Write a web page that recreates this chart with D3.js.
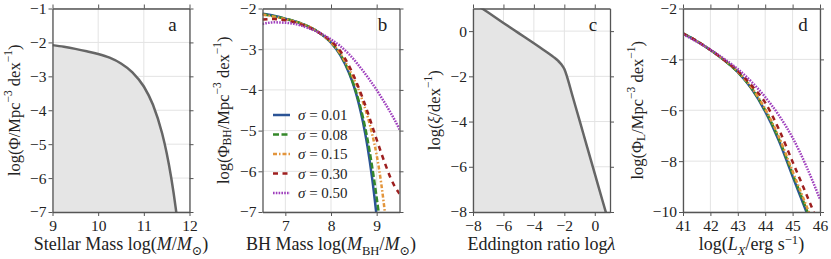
<!DOCTYPE html>
<html>
<head>
<meta charset="utf-8">
<script src="https://cdn.jsdelivr.net/npm/d3@7"></script>
<style>
  body { margin: 0; background: #fff; }
  svg { display: block; }
  text { font-family: "Liberation Serif", "DejaVu Serif", serif; fill: #222; }
</style>
</head>
<body>
<svg id="chart" width="831" height="259"></svg>
<script>
// ---- data ----
// a: stellar mass function
var stellarX = [9.0, 9.25, 9.5, 9.75, 10.0, 10.25, 10.5, 10.75, 11.0, 11.2, 11.4, 11.5, 11.6, 11.7, 11.72];
var stellarY = [-2.08, -2.13, -2.19, -2.26, -2.34, -2.45, -2.62, -2.88, -3.30, -3.84, -4.68, -5.26, -5.99, -6.90, -7.11];

// b: BH mass function for several scatters
var sigmaLabels = ["0.01", "0.08", "0.15", "0.30", "0.50"];
var bhX = [6.5, 6.75, 7.0, 7.25, 7.5, 7.75, 8.0, 8.2, 8.4, 8.5, 8.6, 8.7, 8.8, 8.9, 9.0, 9.1, 9.2, 9.3, 9.4, 9.5];
var bhY001 = [-2.13, -2.18, -2.25, -2.33, -2.44, -2.60, -2.84, -3.14, -3.60, -3.91, -4.30, -4.79, -5.40, -6.16, -7.11, -8.2, -9, -9, -9, -9];
var bhY008 = [-2.14, -2.19, -2.25, -2.33, -2.44, -2.60, -2.83, -3.12, -3.57, -3.88, -4.24, -4.68, -5.22, -5.88, -6.65, -7.5, -8.5, -9, -9, -9];
var bhY015 = [-2.15, -2.20, -2.26, -2.34, -2.44, -2.60, -2.83, -3.10, -3.50, -3.73, -3.98, -4.30, -4.65, -5.08, -5.60, -6.30, -7.20, -8.2, -9, -9];
var bhY030 = [-2.27, -2.26, -2.29, -2.36, -2.46, -2.60, -2.80, -3.04, -3.42, -3.66, -3.93, -4.22, -4.54, -4.88, -5.22, -5.55, -5.86, -6.15, -6.38, -6.55];
var bhY050 = [-2.38, -2.34, -2.35, -2.39, -2.48, -2.60, -2.76, -2.92, -3.13, -3.25, -3.39, -3.53, -3.68, -3.84, -4.00, -4.18, -4.36, -4.55, -4.75, -4.97];

// c: Eddington ratio distribution
var eddX = [-8, -7, -6, -5, -4, -3.5, -3, -2.7, -2.4, -2.2, -2.0, -1.83, -1.5, -1.0, -0.5, 0.0, 0.5, 0.8];
var eddY = [1.27, 0.82, 0.36, -0.09, -0.54, -0.77, -1.0, -1.15, -1.32, -1.47, -1.68, -2.0, -2.78, -3.95, -5.13, -6.30, -7.48, -8.18];

// d: X-ray luminosity function
var lumX = [41, 41.5, 42, 42.5, 43, 43.5, 44, 44.5, 45, 45.5, 46];
var lumY001 = [-2.98, -3.28, -3.63, -4.03, -4.50, -5.15, -6.05, -7.20, -8.60, -9.98, -11.4];
var lumY008 = [-2.98, -3.28, -3.63, -4.03, -4.50, -5.13, -6.00, -7.13, -8.50, -9.88, -11.3];
var lumY015 = [-2.98, -3.28, -3.63, -4.03, -4.48, -5.10, -5.95, -7.05, -8.40, -9.75, -11.1];
var lumY030 = [-2.98, -3.28, -3.63, -4.02, -4.45, -5.02, -5.70, -6.75, -8.03, -9.30, -10.6];
var lumY050 = [-3.02, -3.30, -3.62, -3.98, -4.38, -4.88, -5.48, -6.20, -7.08, -8.20, -9.50];

// ---- styles ----
var colors = ["#2b5496", "#35882a", "#e3953c", "#9e1f1f", "#9f3fbd"];
var dashes = [null, "6,2.5", "4,2,1.5,2", "5,4.5", "1.6,1.2"];

var svg = d3.select("#chart");
var top0 = 8.5, bottom0 = 212;
var tickSize = 15.5, labelSize = 16.5, xLabelSize = 18;
var serif = "'Liberation Serif', 'DejaVu Serif', serif";

function mathText(sel, parts, size) {
  var shift = 0;
  parts.forEach(function (p) {
    if (typeof p === "string") p = {t: p};
    var ts = sel.append("tspan").text(p.t);
    var target = p.sup ? -0.36 * size : (p.sub ? 0.25 * size : 0);
    ts.attr("dy", target - shift);
    shift = target;
    if (p.sup || p.sub) ts.attr("font-size", 0.7 * size);
    if (p.i) ts.attr("font-style", "italic");
  });
}

function panel(opt) {
  var x = d3.scaleLinear().domain(opt.xd).range([opt.left, opt.right]);
  var y = d3.scaleLinear().domain(opt.yd).range([bottom0, top0]);
  var g = svg.append("g");
  var clipId = "clip-" + opt.letter;
  g.append("clipPath").attr("id", clipId).append("rect")
    .attr("x", opt.left).attr("y", top0)
    .attr("width", opt.right - opt.left).attr("height", bottom0 - top0);

  // grid
  g.append("g").selectAll("line").data(opt.xt).join("line")
    .attr("x1", d => x(d)).attr("x2", d => x(d))
    .attr("y1", top0).attr("y2", bottom0)
    .attr("stroke", "#e3e3e3").attr("stroke-width", 1);
  g.append("g").selectAll("line").data(opt.yt).join("line")
    .attr("y1", d => y(d)).attr("y2", d => y(d))
    .attr("x1", opt.left).attr("x2", opt.right)
    .attr("stroke", "#e3e3e3").attr("stroke-width", 1);

  var plot = g.append("g").attr("clip-path", "url(#" + clipId + ")");
  opt.draw(plot, x, y);

  // axes on all four sides, outward ticks
  var fmt = d => d3.format("d")(d).replace("-", "\u2212");
  var ax = [
    d3.axisBottom(x).tickValues(opt.xt).tickFormat(fmt).tickSizeInner(4).tickSizeOuter(0).tickPadding(4),
    d3.axisTop(x).tickValues(opt.xt).tickFormat("").tickSizeInner(4).tickSizeOuter(0),
    d3.axisLeft(y).tickValues(opt.yt).tickFormat(fmt).tickSizeInner(4).tickSizeOuter(0).tickPadding(2),
    d3.axisRight(y).tickValues(opt.yt).tickFormat("").tickSizeInner(4).tickSizeOuter(0)
  ];
  var pos = ["translate(0," + bottom0 + ")", "translate(0," + top0 + ")",
             "translate(" + opt.left + ",0)", "translate(" + opt.right + ",0)"];
  ax.forEach(function (a, i) {
    var ag = g.append("g").attr("transform", pos[i]).call(a)
      .attr("font-family", serif).attr("font-size", tickSize);
    ag.select(".domain").attr("stroke", "#555").attr("stroke-width", 1.3);
    ag.selectAll(".tick line").attr("stroke", "#555").attr("stroke-width", 1);
    ag.selectAll("text").attr("fill", "#222");
  });

  // panel letter
  g.append("text").attr("x", opt.right - 17).attr("y", top0 + 22)
    .attr("text-anchor", "middle").attr("font-size", 19).text(opt.letter);

  // axis labels
  var xl = g.append("text").attr("x", (opt.left + opt.right) / 2)
    .attr("y", 250).attr("text-anchor", "middle").attr("font-size", xLabelSize);
  mathText(xl, opt.xlabel, xLabelSize);
  var yl = g.append("text")
    .attr("transform", "translate(" + opt.ylx + "," + ((top0 + bottom0) / 2) + ") rotate(-90)")
    .attr("text-anchor", "middle").attr("dominant-baseline", "central")
    .attr("font-size", labelSize);
  mathText(yl, opt.ylabel, labelSize);
  return {g: g, x: x, y: y};
}

function seriesLine(plot, x, y, xs, ys, color, dash, w) {
  var pts = xs.map((d, i) => [d, ys[i]]);
  plot.append("path").datum(pts)
    .attr("d", d3.line().x(d => x(d[0])).y(d => y(d[1])).curve(d3.curveMonotoneX))
    .attr("fill", "none").attr("stroke", color).attr("stroke-width", w || 2.5)
    .attr("stroke-dasharray", dash);
}

function filledCurve(plot, x, y, xs, ys, yBase) {
  var pts = xs.map((d, i) => [d, ys[i]]);
  plot.append("path").datum(pts)
    .attr("d", d3.area().x(d => x(d[0])).y0(y(yBase)).y1(d => y(d[1])).curve(d3.curveMonotoneX))
    .attr("fill", "#e5e5e5");
  seriesLine(plot, x, y, xs, ys, "#666", null, 2.5);
}

panel({
  letter: "a", left: 52.5, right: 189.5, xd: [9, 12], yd: [-7, -1],
  xt: [9, 10, 11, 12], yt: [-7, -6, -5, -4, -3, -2, -1],
  ylx: 14,
  xlabel: ["Stellar Mass log(", {t: "M", i: true}, "/", {t: "M", i: true}, {t: "\u2299", sub: true}, ")"],
  ylabel: ["log(\u03A6/Mpc", {t: "\u22123", sup: true}, " dex", {t: "\u22121", sup: true}, ")"],
  draw: function (plot, x, y) { filledCurve(plot, x, y, stellarX, stellarY, -7); }
});

var bhSeries = [bhY001, bhY008, bhY015, bhY030, bhY050];
var pb = panel({
  letter: "b", left: 262.5, right: 399.5, xd: [6.5, 9.5], yd: [-7, -2],
  xt: [7, 8, 9], yt: [-7, -6, -5, -4, -3, -2],
  ylx: 223,
  xlabel: ["BH Mass log(", {t: "M", i: true}, {t: "BH", sub: true}, "/", {t: "M", i: true}, {t: "\u2299", sub: true}, ")"],
  ylabel: ["log(\u03A6", {t: "BH", sub: true}, "/Mpc", {t: "\u22123", sup: true}, " dex", {t: "\u22121", sup: true}, ")"],
  draw: function (plot, x, y) {
    bhSeries.forEach(function (s, i) { seriesLine(plot, x, y, bhX, s, colors[i], dashes[i]); });
  }
});

// legend in panel b
var leg = pb.g.append("g");
sigmaLabels.forEach(function (s, i) {
  var yy = 115 + i * 19.5;
  leg.append("line").attr("x1", 273).attr("x2", 290).attr("y1", yy).attr("y2", yy)
    .attr("stroke", colors[i]).attr("stroke-width", 2.5).attr("stroke-dasharray", dashes[i]);
  var t = leg.append("text").attr("x", 298).attr("y", yy + 5).attr("font-size", 15);
  mathText(t, [{t: "\u03C3", i: true}, " = " + s], 15);
});

panel({
  letter: "c", left: 473, right: 610, xd: [-8, 1], yd: [-8, 1],
  xt: [-8, -6, -4, -2, 0], yt: [-8, -6, -4, -2, 0],
  ylx: 434,
  xlabel: ["Eddington ratio log", {t: "\u03BB", i: true}],
  ylabel: ["log(", {t: "\u03BE", i: true}, "/dex", {t: "\u22121", sup: true}, ")"],
  draw: function (plot, x, y) { filledCurve(plot, x, y, eddX, eddY, -8); }
});

var lumSeries = [lumY001, lumY008, lumY015, lumY030, lumY050];
panel({
  letter: "d", left: 683, right: 820, xd: [41, 46], yd: [-10, -2],
  xt: [41, 42, 43, 44, 45, 46], yt: [-10, -8, -6, -4, -2],
  ylx: 637,
  xlabel: ["log(", {t: "L", i: true}, {t: "X", sub: true, i: true}, "/erg s", {t: "\u22121", sup: true}, ")"],
  ylabel: ["log(\u03A6", {t: "L", sub: true}, "/Mpc", {t: "\u22123", sup: true}, " dex", {t: "\u22121", sup: true}, ")"],
  draw: function (plot, x, y) {
    lumSeries.forEach(function (s, i) { seriesLine(plot, x, y, lumX, s, colors[i], dashes[i]); });
  }
});
</script>
</body>
</html>
